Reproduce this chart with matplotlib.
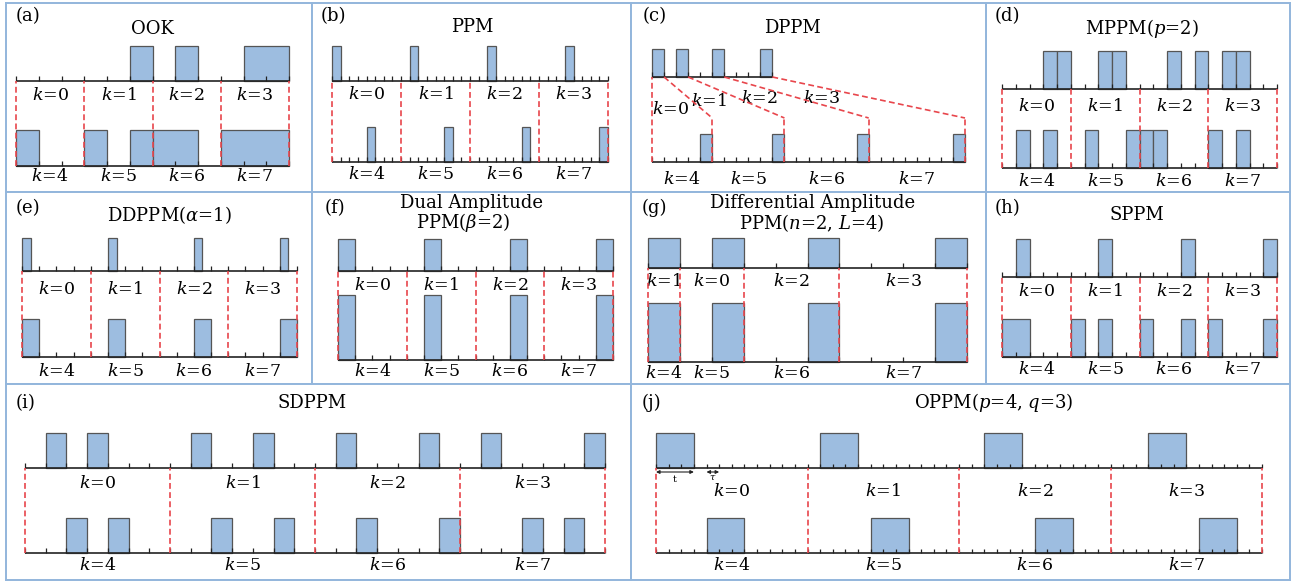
import numpy as np
import matplotlib
matplotlib.use("Agg")
import matplotlib.pyplot as plt
from matplotlib.patches import Rectangle

plt.rcParams['font.family'] = ['DejaVu Serif']
plt.rcParams['mathtext.fontset'] = 'dejavuserif'

W, H = 1294, 582
FILL = '#9dbde0'
EDGE = '#555555'
AXIS = '#222222'
RED = '#e8464c'
BORDER = '#93b6dc'

# ---- data: pulse slots of every symbol k = 0..7 ----
ook_slots = 3
ook_pulses = [[], [2], [1], [1, 2], [0], [0, 2], [0, 1], [0, 1, 2]]

ppm_slots = 8
ppm_pulses = [[0], [1], [2], [3], [4], [5], [6], [7]]

dppm_len = [1, 2, 3, 4, 5, 6, 7, 8]          # pulse sits in the last slot

mppm_slots = 5
mppm_pulses = [[3, 4], [2, 3], [2, 4], [1, 2], [1, 3], [1, 4], [0, 1], [0, 2]]

ddppm_slots = 4
ddppm_pos = [0, 1, 2, 3, 0, 1, 2, 3]
ddppm_width = [0.5, 0.5, 0.5, 0.5, 1, 1, 1, 1]
ddppm_amp = [1, 1, 1, 1, 1.15, 1.15, 1.15, 1.15]

dappm_slots = 4
dappm_pos = [0, 1, 2, 3, 0, 1, 2, 3]
dappm_amp = [1, 1, 1, 1, 2, 2, 2, 2]

diff_len = [1, 2, 3, 4]                       # pulse in last slot
diff_top_k = [1, 0, 2, 3]
diff_bot_k = [4, 5, 6, 7]
diff_amp = [1, 2]

sppm_slots = 5
sppm_pulses = [[1], [2], [3], [4], [0, 1], [0, 2], [0, 3], [0, 4]]

sdppm_slots = 7
sdppm_pulses = [[1, 3], [1, 4], [1, 5], [1, 6], [2, 4], [2, 5], [2, 6], [3, 5]]

oppm_chips = 12
oppm_width = 3
oppm_offset = [0, 1, 2, 3, 4, 5, 6, 7]

# ---- layout (pixels) ----
LAY = {
    'a': dict(box=(6, 3, 312, 192), x0=16, x1=289, n=12, yt=81, yb=166, h=35.5, lt=95, lb=177),
    'b': dict(box=(312, 3, 631, 192), x0=332, x1=608, n=32, yt=81, yb=162, h=35, lt=95, lb=175),
    'c': dict(box=(631, 3, 986, 192), x0=652, x1=965, n=26, yt=77, yb=162, h=28, lt=100, lb=180),
    'd': dict(box=(986, 3, 1290, 192), x0=1002, x1=1277, n=20, yt=89, yb=168, h=38, lt=107, lb=182),
    'e': dict(box=(6, 192, 312, 384), x0=22, x1=297, n=16, yt=271, yb=357, h=33, lt=290, lb=372),
    'f': dict(box=(312, 192, 631, 384), x0=338, x1=613, n=16, yt=271, yb=360, h=32.5, lt=285, lb=372),
    'g': dict(box=(631, 192, 986, 384), x0=648, x1=967, n=10, yt=268, yb=362, h=29.5, lt=282, lb=373),
    'h': dict(box=(986, 192, 1290, 384), x0=1002, x1=1277, n=20, yt=277, yb=357, h=38, lt=292, lb=370),
    'i': dict(box=(6, 384, 631, 580), x0=25, x1=605, n=28, yt=468, yb=553, h=35, lt=483, lb=565),
    'j': dict(box=(631, 384, 1290, 580), x0=656, x1=1262, n=48, yt=468, yb=553, h=35, lt=492, lb=565),
}
TITLES = {
    'a': [('OOK', 152, 29)], 'b': [('PPM', 472, 27)], 'c': [('DPPM', 792, 28)],
    'd': [('MPPM($p$=2)', 1142, 28)], 'e': [(r'DDPPM($\alpha$=1)', 169, 215)],
    'f': [('Dual Amplitude', 472, 203), (r'PPM($\beta$=2)', 463, 223)],
    'g': [('Differential Amplitude', 813, 203), ('PPM($n$=2, $L$=4)', 812, 223)],
    'h': [('SPPM', 1137, 215)], 'i': [('SDPPM', 312, 403)], 'j': [('OPPM($p$=4, $q$=3)', 994, 403)],
}
TAGS = {'a': (28, 16), 'b': (333, 16), 'c': (655, 16), 'd': (1007, 16),
        'e': (28, 208), 'f': (335, 208), 'g': (654, 208), 'h': (1007, 208),
        'i': (26, 403), 'j': (651, 403)}

fig = plt.figure(figsize=(W / 100, H / 100), dpi=100)


def ftext(px, py, s, size=13):
    fig.text(px / W, 1 - py / H, s, ha='center', va='center', fontsize=size)


def make_panel(key):
    p = LAY[key]
    bx0, by0, bx1, by1 = p['box']
    ax = fig.add_axes([bx0 / W, 1 - by1 / H, (bx1 - bx0) / W, (by1 - by0) / H])
    sw = (p['x1'] - p['x0']) / p['n']
    ax.set_xlim((bx0 - p['x0']) / sw, (bx1 - p['x0']) / sw)
    ax.set_ylim((p['yb'] - by1) / p['h'], (p['yb'] - by0) / p['h'])
    ax.set_xticks([])
    ax.set_yticks([])
    for s in ax.spines.values():
        s.set_color(BORDER)
        s.set_linewidth(1.4)
    for t, x, y in TITLES[key]:
        ftext(x, y, t)
    ftext(TAGS[key][0], TAGS[key][1], '(%s)' % key)
    ytop = (p['yb'] - p['yt']) / p['h']
    yl_top = (p['yb'] - p['lt']) / p['h']
    yl_bot = (p['yb'] - p['lb']) / p['h']
    return ax, ytop, yl_top, yl_bot, p['h']


def merge_runs(ps):
    # join neighbouring slots of one symbol into one wide pulse
    out = []
    for s, w, a in sorted(ps):
        if out and abs(out[-1][0] + out[-1][1] - s) < 1e-9 and out[-1][2] == a:
            out[-1] = (out[-1][0], out[-1][1] + w, a)
        else:
            out.append((s, w, a))
    return out


def draw_row(ax, base, lengths, pulses, tick, merge=False):
    edges = np.concatenate([[0], np.cumsum(lengths)])
    total = edges[-1]
    ax.hlines(base, 0, total, color=AXIS, lw=1.2, zorder=3)
    ax.vlines(np.arange(total + 1), base, base + tick, color=AXIS, lw=0.9, zorder=4)
    for i, ps in enumerate(pulses):
        if merge:
            ps = merge_runs(ps)
        for s, w, a in ps:
            ax.add_patch(Rectangle((edges[i] + s, base), w, a, fc=FILL, ec=EDGE,
                                   lw=0.9, zorder=2))
    return edges


def dashed(ax, xs, y0, y1):
    ax.vlines(xs, y0, y1, color=RED, lw=1.2, linestyles=(0, (3.5, 2)), zorder=5)


def labels(ax, edges, y, ks):
    centers = (edges[:-1] + edges[1:]) / 2
    for c, k in zip(centers, ks):
        ax.text(c, y, '$k$=%d' % k, ha='center', va='center', fontsize=12.5)


def std_panel(key, slots, pulses, tick_px=5, merge=False):
    ax, ytop, ylt, ylb, h = make_panel(key)
    tick = tick_px / h
    e = draw_row(ax, ytop, [slots] * 4, pulses[:4], tick, merge)
    draw_row(ax, 0, [slots] * 4, pulses[4:], tick, merge)
    dashed(ax, e, 0, ytop)
    labels(ax, e, ylt, range(4))
    labels(ax, e, ylb, range(4, 8))
    return ax, ytop, h


std_panel('a', ook_slots, [[(s, 1, 1) for s in ps] for ps in ook_pulses], merge=True)
std_panel('b', ppm_slots, [[(s, 1, 1) for s in ps] for ps in ppm_pulses])
std_panel('d', mppm_slots, [[(s, 1, 1) for s in ps] for ps in mppm_pulses])
std_panel('e', ddppm_slots, [[(s, w, a)] for s, w, a in zip(ddppm_pos, ddppm_width, ddppm_amp)])
std_panel('f', dappm_slots, [[(s, 1, a)] for s, a in zip(dappm_pos, dappm_amp)])
std_panel('h', sppm_slots, [[(s, 1, 1) for s in ps] for ps in sppm_pulses], merge=True)
std_panel('i', sdppm_slots, [[(s, 1, 1) for s in ps] for ps in sdppm_pulses])
ax, ytop, h = std_panel('j', oppm_chips, [[(o, oppm_width, 1)] for o in oppm_offset], tick_px=4)
ya = (LAY['j']['yb'] - 472) / h
for a0, a1, s, dy in [(0, oppm_width, 't', 8), (4, 5, r'$\tau$', 6)]:
    ax.annotate('', xy=(a1, ya), xytext=(a0, ya),
                arrowprops=dict(arrowstyle='<|-|>', lw=0.8, color=AXIS,
                                mutation_scale=5, shrinkA=0, shrinkB=0))
    ax.text((a0 + a1) / 2, ya - dy / h, s, ha='center', va='center', fontsize=7)

# DPPM: variable symbol length
ax, ytop, ylt, ylb, h = make_panel('c')
tick = 5 / h
et = draw_row(ax, ytop, dppm_len[:4], [[(n - 1, 1, 1)] for n in dppm_len[:4]], tick)
eb = draw_row(ax, 0, dppm_len[4:], [[(n - 1, 1, 1)] for n in dppm_len[4:]], tick)
ymid = (LAY['c']['yb'] - 118) / h
dashed(ax, [0], 0, ytop)
for k in range(4):
    ax.plot([et[k + 1], eb[k + 1]], [ytop, ymid], color=RED, lw=1.2,
            linestyle=(0, (3.5, 2)), zorder=5)
    dashed(ax, [eb[k + 1]], 0, ymid)
c_top = (et[:-1] + et[1:]) / 2
c_bot = (eb[:-1] + eb[1:]) / 2
lty_px = [110, 102, 99, 99]
for k in range(4):
    ax.text((c_top[k] + c_bot[k]) / 2 - 0.3 * k, (LAY['c']['yb'] - lty_px[k]) / h,
            '$k$=%d' % k, ha='center', va='center', fontsize=12.5)
labels(ax, eb, ylb, range(4, 8))

# Differential amplitude PPM
ax, ytop, ylt, ylb, h = make_panel('g')
tick = 5 / h
e = draw_row(ax, ytop, diff_len, [[(n - 1, 1, diff_amp[0])] for n in diff_len], tick)
draw_row(ax, 0, diff_len, [[(n - 1, 1, diff_amp[1])] for n in diff_len], tick)
dashed(ax, e, 0, ytop)
labels(ax, e, ylt, diff_top_k)
labels(ax, e, ylb, diff_bot_k)

fig.savefig('out.png', dpi=100, facecolor='white')
